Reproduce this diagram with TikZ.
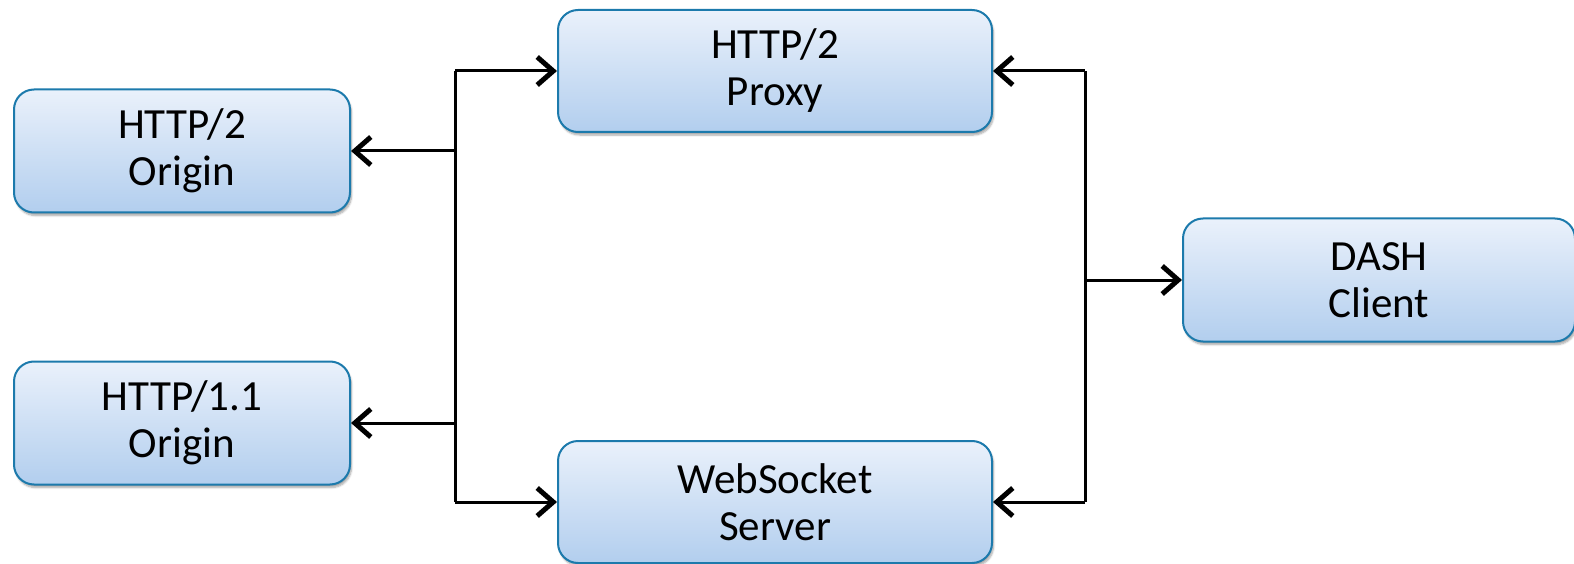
\documentclass[tikz,border=0pt]{standalone}
\usepackage{fontspec}
\setmainfont{Carlito}
\usetikzlibrary{arrows.meta,shadows.blur}
\definecolor{boxline}{RGB}{28,122,172}
\definecolor{boxtop}{RGB}{234,241,251}
\definecolor{boxbot}{RGB}{178,206,238}
\tikzset{
  box/.style={draw=boxline, line width=2pt, rounded corners=20pt,
    top color=boxtop, bottom color=boxbot, align=center, inner sep=0pt,
    font=\fontsize{43}{47}\selectfont,
    blur shadow={shadow xshift=1.5pt, shadow yshift=-3pt, shadow blur steps=6, shadow opacity=35}},
  smallbox/.style={box, minimum width=336pt, minimum height=123pt},
  widebox/.style={box, minimum width=434pt, minimum height=122pt},
  link/.style={line width=3pt, black},
  arr/.style={link, -{Straight Barb[length=16pt, width=28pt, line width=5pt]}}
}
\begin{document}
\begin{tikzpicture}[x=1pt, y=-1pt]
\useasboundingbox (0,0) rectangle (1574,564);

% components
\node[smallbox] (o2)  at (182,151)   {HTTP/2\\Origin};
\node[smallbox] (o11) at (182,423)   {HTTP/1.1\\Origin};
\node[widebox]  (px)  at (775,71)    {HTTP/2\\Proxy};
\node[widebox]  (ws)  at (775,502)   {WebSocket\\Server};
\node[box, minimum width=392pt, minimum height=123pt] (dc) at (1379,280) {DASH\\Client};

% left and right distribution buses
\coordinate (lt) at (455,71);
\coordinate (lb) at (455,502);
\coordinate (rt) at (1085,71);
\coordinate (rb) at (1085,502);

\draw[link] (lt) -- (lb);
\draw[link] (rt) -- (rb);

\draw[arr] (lt) -- (px.west);
\draw[arr] (lb) -- (ws.west);
\draw[arr] (o2.east -| lt) -- (o2.east);
\draw[arr] (o11.east -| lt) -- (o11.east);

\draw[arr] (rt) -- (px.east);
\draw[arr] (rb) -- (ws.east);
\draw[arr] (dc.west -| rt) -- (dc.west);
\end{tikzpicture}
\end{document}
